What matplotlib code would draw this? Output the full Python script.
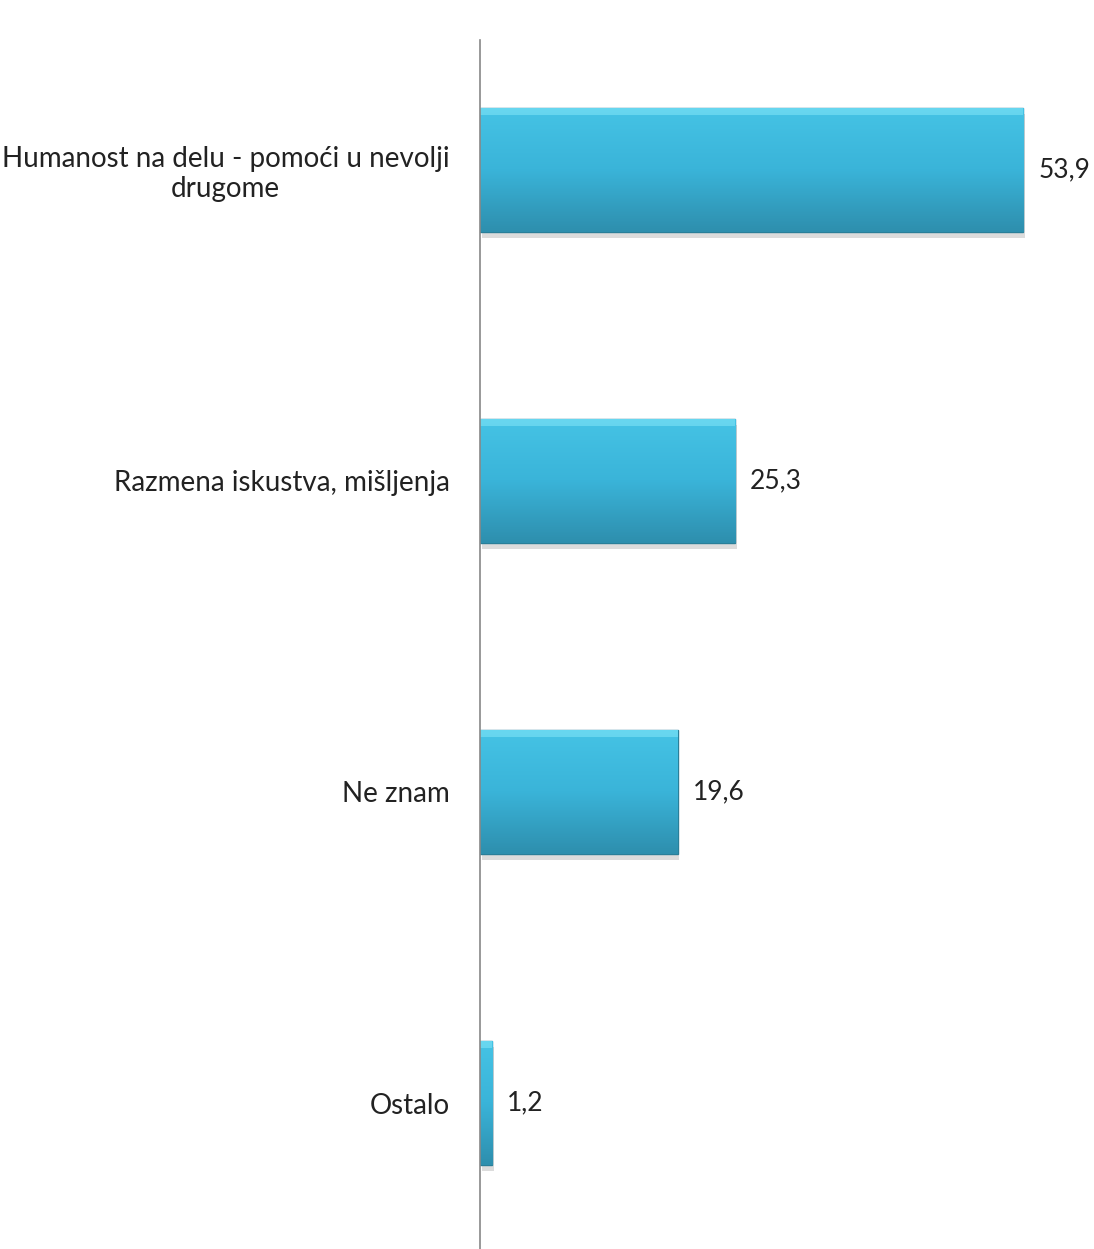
import numpy as np
import matplotlib
matplotlib.use('Agg')
from matplotlib import pyplot as plt
from matplotlib.colors import LinearSegmentedColormap

categories = ['Humanost na delu - pomoći u nevolji\ndrugome',
              'Razmena iskustva, mišljenja',
              'Ne znam',
              'Ostalo']
values = [53.9, 25.3, 19.6, 1.2]
value_labels = ['53,9', '25,3', '19,6', '1,2']

plt.rcParams['font.family'] = ['Lato', 'DejaVu Sans']

fig = plt.figure(figsize=(10.94, 12.49), dpi=100)
# axis line sits at x=480 px, top of axis at y=40 px
ax = fig.add_axes([480 / 1094, 0, (1090 - 480) / 1094, 1 - 40 / 1249])

pos = np.arange(len(values))
bars = ax.barh(pos, values, height=0.4, color='#38afd2', edgecolor='#2a7f99',
               linewidth=1.0, zorder=3)

grad = LinearSegmentedColormap.from_list('bar', ['#45c3e5', '#3ab4d9', '#2e8fae'])
shade = np.linspace(0, 1, 64).reshape(-1, 1)
for b in bars:
    x0, y0, w, h = b.get_x(), b.get_y(), b.get_width(), b.get_height()
    # soft shadow beneath
    ax.add_patch(plt.Rectangle((x0 + 0.15, y0 + 0.02), w, h, color='#bbbbbb',
                               alpha=0.5, zorder=2, lw=0))
    im = ax.imshow(shade, cmap=grad, aspect='auto', extent=(x0, x0 + w, y0 + h, y0),
                   zorder=4)
    im.set_clip_path(b)
    # lighter top bevel
    ax.add_patch(plt.Rectangle((x0, y0), w, h * 0.06, color='#7fe4f7', alpha=0.6,
                               zorder=5, lw=0))

for p, v, lab in zip(pos, values, value_labels):
    ax.text(v + 1.5, p, lab, va='center', ha='left', fontsize=19, color='#222222')

ax.set_xlim(0, 60.5)
ax.set_ylim((1249 - 170) / 311, (40 - 170) / 311)
ax.set_yticks(pos)
ax.set_yticklabels(categories, fontsize=20, multialignment='center', color='#222222',
                   linespacing=1.15)
ax.tick_params(axis='y', length=0, pad=22)
ax.set_xticks([])
for s in ['top', 'right', 'bottom']:
    ax.spines[s].set_visible(False)
ax.spines['left'].set_color('#888888')
ax.spines['left'].set_linewidth(1.2)
ax.spines['left'].set_zorder(6)

fig.savefig('out.png', dpi=100)
